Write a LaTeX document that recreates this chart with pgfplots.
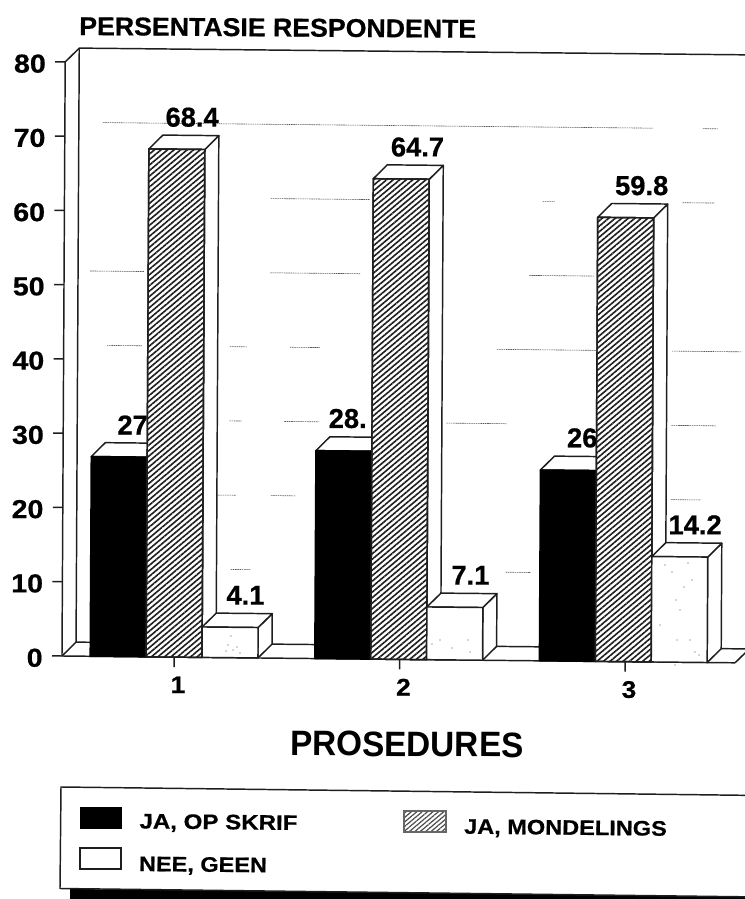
\documentclass[border=0pt]{standalone}
\usepackage{fontspec}
\usepackage{graphicx}
\usepackage{pgfplots}
\pgfplotsset{compat=1.18}
\usetikzlibrary{patterns.meta}
\setmainfont[BoldFeatures={FakeBold=0.6}]{Liberation Sans}
\newfontfamily\wideb[FakeStretch=1.1,BoldFeatures={FakeStretch=1.1,FakeBold=0.6}]{Liberation Sans}
\newfontfamily\plainb{Liberation Sans Bold}
\definecolor{ink}{HTML}{1E1E1E}
\tikzset{
  whitef/.style={draw=ink,line width=1.1pt,fill=white,line join=round},
  blackf/.style={draw=black,line width=1.1pt,fill=black,line join=round},
  hatchf/.style={draw=ink,line width=1.1pt,line join=round,
     preaction={fill=white},
     pattern={Lines[angle=40,distance=3.15pt,line width=1.2pt]},pattern color=ink},
  frag/.style={draw=black!65,line width=0.45pt,dash pattern=on 1.2pt off 0.5pt},
}
% depth offset of the 3-D effect in data units
\def\dx{0.062}\def\dv{1.886}
% a 3-D bar: front style, left x, right x, value
\newcommand\threeD[4]{%
  \pgfmathsetmacro\xa{#2}\pgfmathsetmacro\xb{#3}%
  \pgfmathsetmacro\xc{#2+\dx}\pgfmathsetmacro\xd{#3+\dx}\pgfmathsetmacro\vt{#4+\dv}%
  \edef\tmp{\noexpand\addplot[whitef,forget plot] coordinates {(\xb,0) (\xd,\dv) (\xd,\vt) (\xb,#4)} -- cycle;
    \noexpand\addplot[whitef,forget plot] coordinates {(\xa,#4) (\xc,\vt) (\xd,\vt) (\xb,#4)} -- cycle;
    \noexpand\addplot[#1,forget plot] coordinates {(\xa,0) (\xa,#4) (\xb,#4) (\xb,0)} -- cycle;}%
  \tmp}
% worn gridline fragment on the back wall: value, pixel x from, pixel x to
\newcommand\frag[3]{%
  \pgfmathsetmacro\xa{(#2-174)/225.5+1}\pgfmathsetmacro\xb{(#3-174)/225.5+1}\pgfmathsetmacro\vt{#1+\dv}%
  \edef\tmp{\noexpand\addplot[frag,forget plot] coordinates {(\xa,\vt) (\xb,\vt)};}\tmp}
\begin{document}
\begin{tikzpicture}
\path[use as bounding box] (0,0) rectangle (558pt,674.25pt);
\begin{axis}[
  at={(46.5pt,182.25pt)},anchor=origin,
  x={(169.125pt,-1.71pt)},y={(0.03pt,5.569pt)},
  xmin=0.503,xmax=3.488,ymin=0,ymax=80,
  clip=false,
  axis lines=left,axis line style={-,draw=ink,line width=1.1pt},
  tick style={draw=ink,line width=1.1pt},
  tick align=outside,major tick length=7.5pt,
  xtick={1,2,3},ytick={0,10,20,30,40,50,60,70,80},
  /pgf/number format/assume math mode=true,
  tick label style={font=\wideb\bfseries\fontsize{19.5pt}{20pt}\selectfont},
  xticklabel style={font=\wideb\bfseries\fontsize{18pt}{20pt}\selectfont,xshift=3pt,yshift=-3.5pt},
  yticklabel style={xshift=-3.5pt,yshift=-1.5pt},
  title={\resizebox{297.7pt}{13.5pt}{\bfseries PERSENTASIE RESPONDENTE}},
  title style={at={(axis description cs:0.319,1.044)},anchor=center,rotate=-0.4},
  xlabel={\resizebox{175pt}{18.5pt}{\plainb PROSEDURES}},
  xlabel style={at={(axis description cs:0.51,-0.1356)},anchor=center,rotate=-0.4},
]
% back wall and floor
\addplot[draw=ink,line width=1.1pt,forget plot] coordinates {(0.503,80) (0.565,81.886) (3.62,81.886)};
\addplot[draw=ink,line width=1.1pt,forget plot] coordinates {(0.565,81.886) (0.565,1.886) (3.55,1.886)};
\addplot[draw=ink,line width=1.1pt,forget plot] coordinates {(0.503,0) (0.565,1.886)};
\addplot[draw=ink,line width=1.1pt,forget plot] coordinates {(3.488,0) (3.55,1.886)};
% remains of the gridlines
\frag{70}{100}{650}\frag{70}{700}{715}
\frag{60}{268}{367}\frag{60}{540}{552}\frag{60}{680}{712}
\frag{50}{88}{142}\frag{50}{268}{358}\frag{50}{527}{592}
\frag{40}{105}{140}\frag{40}{228}{245}\frag{40}{288}{318}\frag{40}{495}{615}\frag{40}{670}{740}
\frag{30}{228}{240}\frag{30}{283}{318}\frag{30}{445}{505}\frag{30}{670}{715}
\frag{20}{215}{235}\frag{20}{270}{295}\frag{20}{670}{700}
\frag{10}{230}{250}\frag{10}{505}{530}
% group 1
\threeD{blackf}{0.628}{0.876}{26.9}
\addplot[draw=none,forget plot] coordinates {(0.876,27)} node[anchor=east,xshift=4pt,yshift=23.5pt,font=\bfseries\fontsize{20.5pt}{20pt}\selectfont]{27};
\threeD{hatchf}{0.876}{1.124}{68.4}
\threeD{whitef}{1.124}{1.372}{4.1}
% group 2
\threeD{blackf}{1.624}{1.872}{28}
\addplot[draw=none,forget plot] coordinates {(1.876,28)} node[anchor=east,xshift=-1pt,yshift=24.5pt,font=\bfseries\fontsize{20.5pt}{20pt}\selectfont]{28.};
\threeD{hatchf}{1.872}{2.12}{64.7}
\threeD{whitef}{2.12}{2.368}{7.1}
% group 3
\threeD{blackf}{2.62}{2.868}{25.7}
\addplot[draw=none,forget plot] coordinates {(2.876,25.7)} node[anchor=east,xshift=3pt,yshift=24.5pt,font=\bfseries\fontsize{20.5pt}{20pt}\selectfont]{26};
\threeD{hatchf}{2.868}{3.116}{59.8}
\threeD{whitef}{3.116}{3.364}{14.2}
% value labels of the other bars
\addplot[draw=none,forget plot,mark=none,nodes near coords,point meta=explicit symbolic,
  every node near coord/.style={anchor=center,yshift=24pt,xshift=11.5pt,font=\bfseries\fontsize{20.5pt}{20pt}\selectfont}]
  coordinates {(1,68.4)[68.4] (1.248,4.1)[4.1] (2,64.7)[64.7] (2.245,7.1)[7.1] (2.995,59.8)[59.8] (3.24,14.2)[14.2]};
\end{axis}
\begin{scope}[x=0.75pt,y=-0.75pt,yshift=674.25pt]
% stipple in the white bars
\foreach \p in {(231,636),(228,645),(226,651),(233,650),(240,653),(237,647),(424,630),(440,640),(452,648),(470,652),(432,644),(468,640),
  (665,565),(672,572),(676,600),(680,610),(684,587),(677,640),(675,665),(690,640),(695,652),(660,625),(699,655),(688,563),(692,580)}
  \fill[black!70] \p circle (0.7);
% legend
\fill[black] (70,889) -- (760,896) -- (760,910) -- (70,910) -- cycle;
\draw[ink,line width=1.1pt,fill=white] (61,787) -- (760,795.5) -- (760,897) -- (60,888.5) -- cycle;
\fill[black] (80,807) rectangle (122,829);
\path[pattern={Lines[angle=40,distance=2.6pt,line width=0.9pt]},pattern color=black!70,draw=black!60,line width=0.8pt] (404,811) rectangle (446,832);
\draw[ink,line width=0.8pt,fill=white] (80,848) rectangle (121,869);
\node[anchor=center,inner sep=0,rotate=-0.6] at (218.5,823.5) {\resizebox{118.5pt}{11pt}{\bfseries JA, OP SKRIF}};
\node[anchor=center,inner sep=0,rotate=-0.6] at (565.5,829) {\resizebox{152pt}{11pt}{\bfseries JA, MONDELINGS}};
\node[anchor=center,inner sep=0,rotate=-0.6] at (203,866) {\resizebox{96pt}{11pt}{\bfseries NEE, GEEN}};
\end{scope}
\end{tikzpicture}
\end{document}
